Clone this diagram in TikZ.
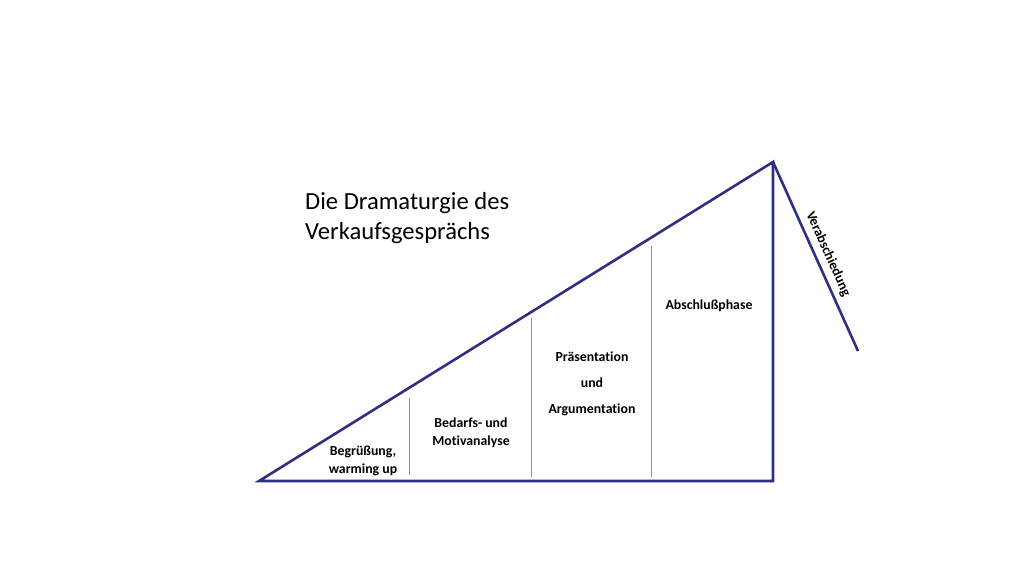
\documentclass[tikz,border=0pt]{standalone}
\usepackage{fontspec}
\setmainfont[RawFeature={-liga;-dlig}]{Carlito}
\definecolor{navy}{RGB}{48,48,130}
\definecolor{divgray}{RGB}{140,140,140}
\begin{document}
\begin{tikzpicture}[x=1pt,y=-1pt,
  edge/.style={draw=navy,line width=2.6pt,line join=miter},
  divider/.style={draw=divgray,line width=0.8pt},
  lbl/.style={font=\fontsize{13.8}{18}\selectfont\bfseries,align=center,inner sep=0pt},
  ttl/.style={font=\fontsize{24.6}{30}\selectfont,align=left,anchor=north west,inner sep=0pt}]
\useasboundingbox (0,0) rectangle (1024,576);
\coordinate (L) at (259,481);
\coordinate (R) at (773,481);
\coordinate (T) at (773,162);
\coordinate (E) at (858,351);
\draw[edge] (L) -- (R) -- (T) -- cycle;
\draw[edge] (T) -- (E);
\coordinate (d1t) at (409,398); \coordinate (d1b) at (409,475);
\coordinate (d2t) at (531,318); \coordinate (d2b) at (531,477);
\coordinate (d3t) at (651,246); \coordinate (d3b) at (651,477);
\draw[divider] (d1t) -- (d1b);
\draw[divider] (d2t) -- (d2b);
\draw[divider] (d3t) -- (d3b);
\node[ttl] (title) at (305,192) {Die Dramaturgie des\\Verkaufsgesprächs};
\node[lbl] (begr) at (363,461) {Begrüßung,\\warming up};
\node[lbl,font=\fontsize{13.8}{26}\selectfont\bfseries] (praes) at (592,384) {Präsentation\\und\\Argumentation};
\node[lbl] (bed) at (471,433) {Bedarfs- und\\Motivanalyse};
\node[lbl] (abs) at (709,306) {Abschlußphase};
\node[lbl,rotate=-65.8] (verab) at (828,254) {Verabschiedung};
\end{tikzpicture}
\end{document}
